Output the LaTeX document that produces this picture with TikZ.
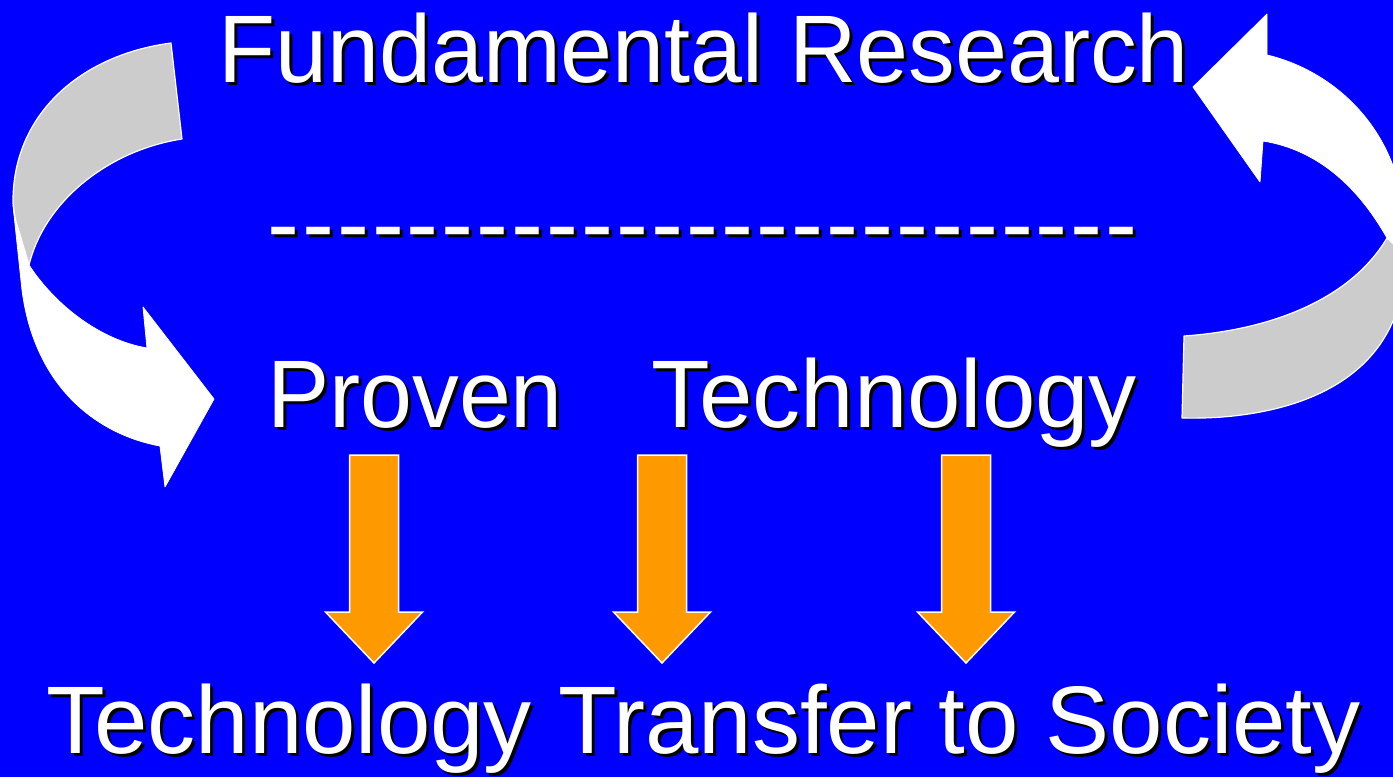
\documentclass[tikz,border=0pt]{standalone}
\usepackage{fontspec}
\setmainfont{Liberation Sans}
\newfontfamily\dashfont[Ligatures=TeXOff,LetterSpace=3.1]{Liberation Sans}
\definecolor{bgblue}{RGB}{0,0,255}
\definecolor{ribbongray}{RGB}{204,204,204}
\definecolor{arroworange}{RGB}{255,153,0}
\newcommand\bigfont{\fontsize{96}{110}\selectfont}
\tikzset{
  txt/.style={font=\bigfont, text=white, inner sep=0pt, anchor=base west},
  shad/.style={txt, text=black},
  dashtxt/.style={txt, font=\dashfont\bigfont},
  dashshad/.style={dashtxt, text=black},
  whiteribbon/.style={fill=white, draw=white, line width=0.8pt, line join=round},
  grayribbon/.style={fill=ribbongray, draw=white, line width=1.2pt, line join=round},
  orangearrow/.style={fill=arroworange, draw=white, line width=1.5pt, line join=miter},
}
\begin{document}
\begin{tikzpicture}[x=1pt,y=-1pt]
\useasboundingbox (0,0) rectangle (1393,777);
\fill[bgblue] (0,0) rectangle (1393,777);
\clip (0,0) rectangle (1393,777);

% ---- left curved arrow (white part, then gray part) ----
\path[whiteribbon] (13,205) -- (22,290) .. controls (35,390) and (100,435) .. (160,446)
  -- (165,487) -- (214,399) -- (143,307) -- (147,348)
  .. controls (100,340) and (55,305) .. (29,265) -- cycle;
\path[grayribbon] (171,43) .. controls (80,55) and (12,115) .. (13,203)
  -- (15,218) -- (29,265)
  .. controls (45,200) and (110,150) .. (182,139) -- cycle;

% ---- right curved arrow ----
\path[whiteribbon] (1387,238) .. controls (1360,190) and (1320,150) .. (1263,141)
  -- (1260,182) -- (1193,87) -- (1267,14) -- (1267,55)
  .. controls (1330,70) and (1385,120) .. (1400,190) -- (1400,250) -- cycle;
\path[grayribbon] (1387,238) -- (1400,250) -- (1400,300)
  .. controls (1375,400) and (1260,420) .. (1182,418)
  -- (1184,336) .. controls (1270,330) and (1350,300) .. (1387,238) -- cycle;

% ---- texts with shadows ----
\node[shad] (fr-s) at (221,85) {\scalebox{0.973}[1]{Fundamental Research}};
\node[txt]  (fr)   at (218,82) {\scalebox{0.973}[1]{Fundamental Research}};

\node[dashshad] (dash-s) at (270,259) {-------------------------};
\node[dashtxt]  (dash)   at (267,256) {-------------------------};

\node[shad] (pv-s) at (270,430) {\scalebox{0.972}[1]{Proven}};
\node[txt]  (pv)   at (267,427) {\scalebox{0.972}[1]{Proven}};
\node[shad] (tc-s) at (654,430) {Technology};
\node[txt]  (tc)   at (651,427) {Technology};

\node[shad] (tts-s) at (49,756) {Technology Transfer to Society};
\node[txt]  (tts)   at (46,753) {Technology Transfer to Society};

% ---- orange down arrows ----
\foreach \x in {374,662,966} {
  \draw[orangearrow] ({\x-24.5},455) -- ({\x+24.5},455) -- ({\x+24.5},612)
    -- ({\x+48.5},612) -- (\x,663) -- ({\x-48.5},612) -- ({\x-24.5},612) -- cycle;
}
\end{tikzpicture}
\end{document}
